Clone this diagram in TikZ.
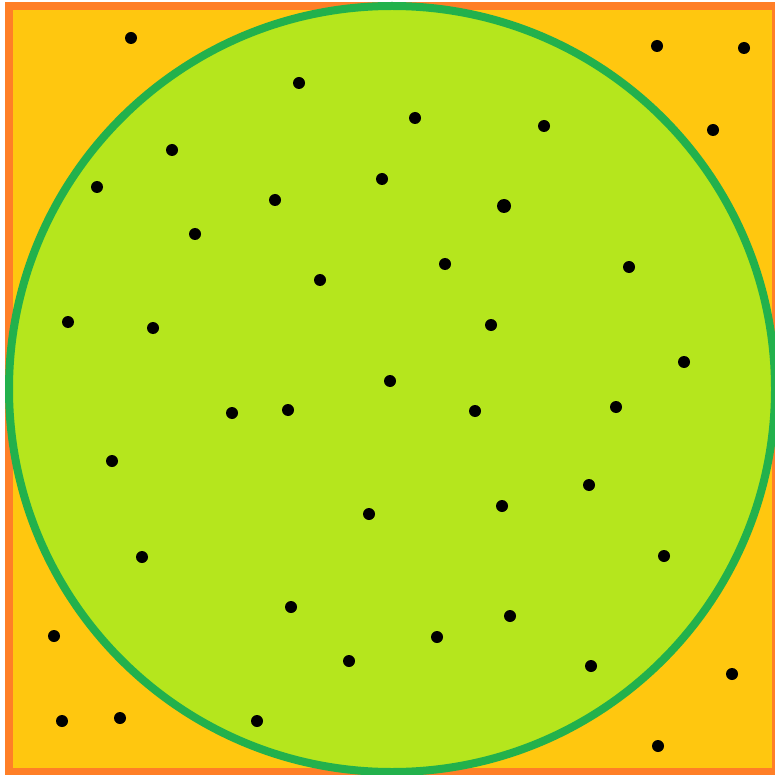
\documentclass[tikz,border=0pt]{standalone}
\usepackage{xcolor}
\definecolor{squareedge}{HTML}{FF7F27}
\definecolor{squarefill}{HTML}{FFC70F}
\definecolor{circleedge}{HTML}{22B14C}
\definecolor{circlefill}{HTML}{B5E61D}
\definecolor{dotink}{HTML}{000000}

\begin{document}
\begin{tikzpicture}[x=1pt, y=-1pt]

  \useasboundingbox (0,0) rectangle (774,775);

  %% outer square
  \filldraw[squareedge, fill=squarefill, line width=8.5pt] (9,6) rectangle (776,772);

  %% inscribed circle
  \filldraw[circleedge, fill=circlefill, line width=8pt] (392,389) circle (383);

  %% random sample points
  \foreach \px/\py in {131/38, 657/46, 744/48, 299/83, 415/118, 544/126,
                       713/130, 172/150, 97/187, 382/179, 275/200,
                       195/234, 445/264, 629/267, 320/280, 68/322,
                       153/328, 491/325, 684/362, 390/381, 232/413,
                       288/410, 475/411, 616/407, 112/461, 589/485,
                       502/506, 369/514, 142/557, 664/556, 291/607,
                       54/636, 510/616, 437/637, 349/661, 591/666,
                       732/674, 62/721, 120/718, 257/721, 658/746}
    \fill[dotink] (\px,\py) circle (6);
  \fill[dotink] (504,206) circle (7);

\end{tikzpicture}
\end{document}
